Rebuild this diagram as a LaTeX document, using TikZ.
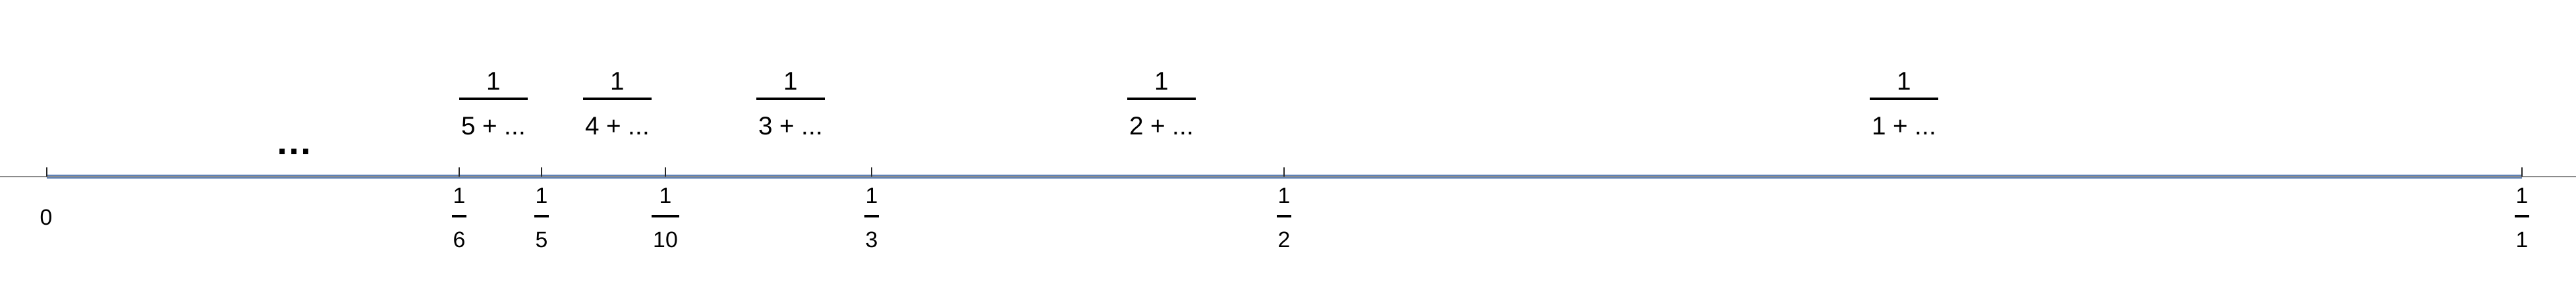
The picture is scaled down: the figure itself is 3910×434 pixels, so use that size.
\documentclass[tikz,border=0pt]{standalone}
\usepackage{fontspec}
\setmainfont{Liberation Sans}
\usepackage{xcolor}
\usetikzlibrary{positioning}

\definecolor{segblue}{RGB}{94,129,181}

% stacked fractions: numerator, bar, denominator
\newcommand{\lowfrac}[1]{{\renewcommand{\arraystretch}{0}\setlength{\arrayrulewidth}{1.1pt}%
  \begin{tabular}[t]{@{\kern0.5pt}c@{\kern0.5pt}}1\rule[-4.8pt]{0pt}{4.8pt}\\\hline\rule{0pt}{13.1pt}#1\end{tabular}}}
\newcommand{\topfrac}[1]{{\renewcommand{\arraystretch}{0}\setlength{\arrayrulewidth}{1.1pt}%
  \begin{tabular}[t]{@{\kern0.9pt}c@{\kern0.9pt}}1\rule[-3.1pt]{0pt}{3.1pt}\\\hline\rule{0pt}{15.1pt}#1\end{tabular}}}

\begin{document}
\begin{tikzpicture}[
  x=0.01cm, y=-0.01cm,
  axis/.style={draw=black!45, line width=0.45pt},
  seg/.style={draw=segblue, line width=1.7pt},
  tickmark/.style={draw=black!85, line width=0.35pt},
  lowlbl/.style={font=\fontsize{9.6pt}{12pt}\selectfont, inner sep=0pt, anchor=base},
  toplbl/.style={font=\fontsize{11pt}{13pt}\selectfont, inner sep=0pt, anchor=base}]

  \useasboundingbox (0,0) rectangle (3910,434);

  \coordinate (left) at (0,268);
  \coordinate (right) at (3910,268);
  \coordinate (p0) at (71,268);
  \coordinate (p6) at (697,268);
  \coordinate (p5) at (822,268);
  \coordinate (p10) at (1010,268);
  \coordinate (p3) at (1323,268);
  \coordinate (p2) at (1949,268);
  \coordinate (p1) at (3828,268);

  \draw[seg] (p0) -- (p1);
  \draw[axis] (left) -- (right);
  \foreach \p in {p0,p6,p5,p10,p3,p2,p1}
    \draw[tickmark] (\p) -- ++(0,-14);

  % labels under the line
  \node[lowlbl] (l0) at (70,342) {0};
  \node[lowlbl] (l6) at (697,309) {\lowfrac{6}};
  \node[lowlbl] (l5) at (822,309) {\lowfrac{5}};
  \node[lowlbl] (l10) at (1010,309) {\lowfrac{10}};
  \node[lowlbl] (l3) at (1323,309) {\lowfrac{3}};
  \node[lowlbl] (l2) at (1949,309) {\lowfrac{2}};
  \node[lowlbl] (l1) at (3828,309) {\lowfrac{1}};

  % continued fractions above
  \node[toplbl] (c5) at (749,137) {\topfrac{5 + ...}};
  \node[toplbl] (c4) at (937,137) {\topfrac{4 + ...}};
  \node[toplbl] (c3) at (1200,137) {\topfrac{3 + ...}};
  \node[toplbl] (c2) at (1763,137) {\topfrac{2 + ...}};
  \node[toplbl] (c1) at (2890,137) {\topfrac{1 + ...}};

  \node[font=\fontsize{16pt}{18pt}\selectfont\bfseries, inner sep=0pt, anchor=base]
       (more) at (447,235) {…};
\end{tikzpicture}
\end{document}
